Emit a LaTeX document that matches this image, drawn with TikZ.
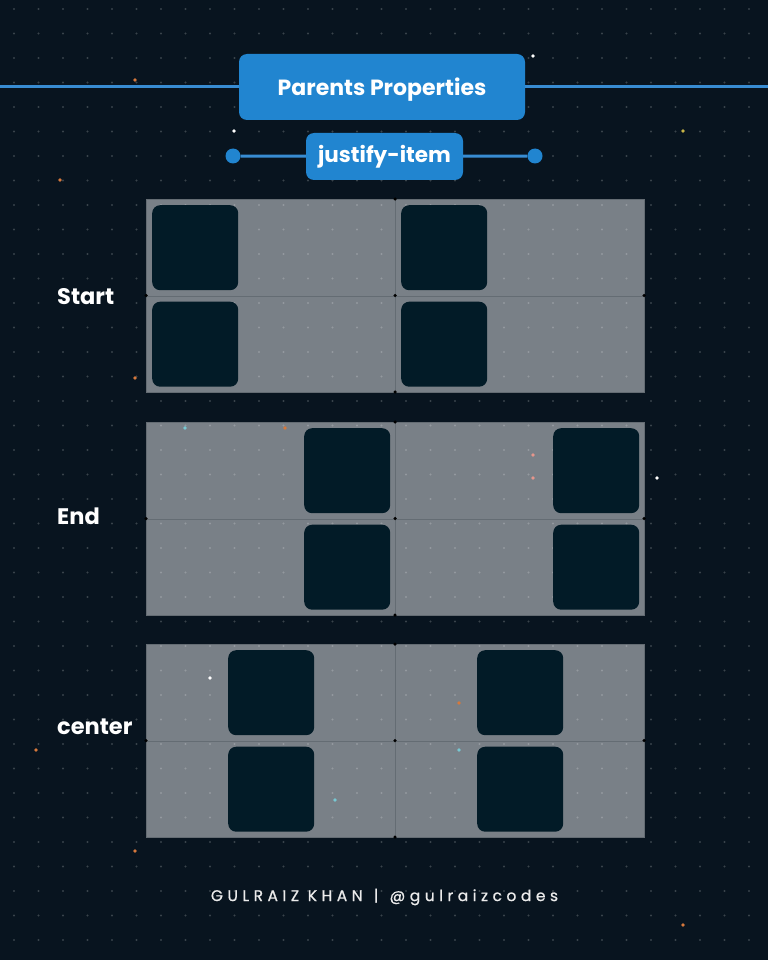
\documentclass[tikz,border=0pt]{standalone}
\usepackage{fontspec}
\setmainfont{Poppins}
\definecolor{bgnavy}{RGB}{8,20,31}
\definecolor{btnblue}{RGB}{33,133,208}
\definecolor{lineblue}{RGB}{56,140,210}
\definecolor{cellgray}{RGB}{121,128,135}
\definecolor{celledge}{RGB}{100,108,115}
\definecolor{itemdark}{RGB}{2,27,39}
\definecolor{sparkorange}{RGB}{214,120,60}
\definecolor{sparkteal}{RGB}{120,200,210}
\definecolor{sparkyellow}{RGB}{200,180,70}
\definecolor{sparkpink}{RGB}{230,150,140}
\tikzset{
	pill/.style={fill=btnblue, rounded corners=8pt, text=white, inner sep=0pt},
	cell/.style={fill=cellgray, draw=celledge, line width=1pt, minimum width=249pt, minimum height=96.5pt, inner sep=0pt, anchor=north west},
	item/.style={fill=itemdark, rounded corners=8pt, minimum width=86pt, minimum height=85pt, inner sep=0pt, anchor=north west},
	rowlabel/.style={text=white, font=\bfseries\fontsize{22.5}{26}\selectfont, anchor=west, inner sep=0pt},
	knot/.style={circle, fill=black, inner sep=0pt, minimum size=3.5pt},
	endball/.style={circle, fill=btnblue, inner sep=0pt, minimum size=15pt},
	connector/.style={lineblue, line width=3pt}
}

\begin{document}
\begin{tikzpicture}[x=1pt, y=-1pt]
	\useasboundingbox (0,0) rectangle (768,960);
	\fill[bgnavy] (0,0) rectangle (768,960);
	% grid blocks
	\foreach \by in {199,422,644}{
		\foreach \col in {0,1}{
			\foreach \row in {0,1}{
				\node[cell] (cell-\by-\col-\row) at ({146+249*\col},{\by+96.5*\row}) {};
			}
		}
	}
	% dotted backdrop
	\foreach \i in {0,...,30}{
		\foreach \j in {0,...,38}{
			\fill[white, opacity=0.2] ({14+24.5*\i},{9+24.5*\j}) circle (1.2pt);
		}
	}
	% items
	\foreach \by/\ix in {199/6, 422/158, 644/82}{
		\foreach \col in {0,1}{
			\foreach \row in {0,1}{
				\node[item] (item-\by-\col-\row) at ({146+249*\col+\ix},{\by+96.5*\row+6}) {};
			}
		}
		\node[knot] (knot-\by-t) at (395,\by) {};
		\node[knot] (knot-\by-m) at (395,{\by+96.5}) {};
		\node[knot] (knot-\by-b) at (395,{\by+193}) {};
		\node[knot] (knot-\by-l) at (146,{\by+96.5}) {};
		\node[knot] (knot-\by-r) at (644,{\by+96.5}) {};
	}
	% labels
	\node[rowlabel] (start) at (57,297) {Start};
	\node[rowlabel] (end) at (57,516) {End};
	\node[rowlabel] (center) at (57,727) {center};
	% header
	\coordinate (westend) at (0,87);
	\coordinate (eastend) at (768,87);
	\node[pill, minimum width=286pt, minimum height=66pt, text depth=0pt, font=\bfseries\fontsize{22}{26}\selectfont] (title) at (382,87) {Parents Properties};
	\draw[connector] (westend) -- (title.west);
	\draw[connector] (title.east) -- (eastend);
	\node[pill, minimum width=157pt, minimum height=47pt, font=\bfseries\fontsize{21.5}{26}\selectfont] (prop) at (384.5,156.5) {justify-item};
	\node[endball] (ballL) at (233,156) {};
	\node[endball] (ballR) at (535,156) {};
	\draw[connector] (ballL) -- (prop);
	\draw[connector] (prop) -- (ballR);
	% footer
	\node[text=white!92!black, font=\fontsize{15.5}{18}\selectfont\addfontfeature{LetterSpace=29,FakeBold=0.8}] (credit) at (384.5,897) {GULRAIZ KHAN \,|\, @gulraizcodes};
	% sparks
	\foreach \sx/\sy/\sc in {135/80/sparkorange, 533/56/white, 683/131/sparkyellow, 234/131/white, 60/180/sparkorange, 135/378/sparkorange, 185/428/sparkteal, 285/428/sparkorange, 533/455/sparkpink, 533/478/sparkpink, 657/478/white, 210/678/white, 459/703/sparkorange, 459/750/sparkteal, 335/800/sparkteal, 36/750/sparkorange, 135/851/sparkorange, 683/925/sparkorange}{
		\fill[\sc] (\sx,\sy) circle (1.8pt);
	}
\end{tikzpicture}
\end{document}
